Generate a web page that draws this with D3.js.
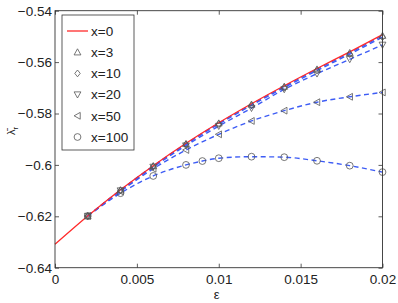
<!DOCTYPE html>
<html>
<head>
<meta charset="utf-8">
<script src="https://cdn.jsdelivr.net/npm/d3@7"></script>
<style>
  body { margin: 0; background: #fff; }
  text { font-family: "Liberation Sans", Arial, sans-serif; fill: #222; }
</style>
</head>
<body>
<script>
// chart size
const width = 398;
const height = 303;

// epsilon values used by most series
const eps = [0.002, 0.004, 0.006, 0.008, 0.01, 0.012, 0.014, 0.016, 0.018, 0.02];
// x=0 curve also starts at 0
const eps0 = [0, 0.002, 0.004, 0.006, 0.008, 0.01, 0.012, 0.014, 0.016, 0.018, 0.02];
// x=100 has an extra point at 0.009
const eps100 = [0.002, 0.004, 0.006, 0.008, 0.009, 0.01, 0.012, 0.014, 0.016, 0.018, 0.02];

const lam0 = [-0.6309, -0.6199, -0.6097, -0.6003, -0.5916, -0.5836, -0.5762, -0.5692, -0.5625, -0.5560, -0.5493];
const lam3 = [-0.6199, -0.6098, -0.6004, -0.5918, -0.5838, -0.5765, -0.5695, -0.5628, -0.5564, -0.5497];
const lam10 = [-0.6199, -0.6099, -0.6006, -0.5920, -0.5841, -0.5768, -0.5699, -0.5633, -0.5569, -0.5503];
const lam20 = [-0.6199, -0.6100, -0.6008, -0.5925, -0.5849, -0.5779, -0.5706, -0.5645, -0.5589, -0.5533];
const lam50 = [-0.6199, -0.6103, -0.6015, -0.5942, -0.5881, -0.5829, -0.5789, -0.5756, -0.5735, -0.5718];
const lam100 = [-0.6199, -0.6110, -0.6043, -0.6000, -0.5985, -0.5974, -0.5968, -0.5970, -0.5984, -0.6003, -0.6028];

const xTicks = [0, 0.005, 0.01, 0.015, 0.02];
const xTickLabels = ["0", "0.005", "0.01", "0.015", "0.02"];
const yTicks = [-0.64, -0.62, -0.6, -0.58, -0.56, -0.54];
const yTickLabels = ["\u22120.64", "\u22120.62", "\u22120.6", "\u22120.58", "\u22120.56", "\u22120.54"];

const legendLabels = ["x=0", "x=3", "x=10", "x=20", "x=50", "x=100"];

// plot box
const boxL = 55, boxR = 382.5, boxT = 10.7, boxB = 267.7;

const x = d3.scaleLinear().domain([0, 0.02]).range([boxL, boxR]);
const y = d3.scaleLinear().domain([-0.64, -0.54]).range([boxB, boxT]);

const svg = d3.select("body").append("svg")
  .attr("width", width)
  .attr("height", height);

const blue = "#3d5cf5";
const red = "#ff2a2a";
const markColor = "#555";

// marker shapes
function markerPath(kind) {
  const s = 3.4;
  if (kind === "up") return `M0,${-s}L${s},${s * 0.8}L${-s},${s * 0.8}Z`;
  if (kind === "down") return `M0,${s}L${s},${-s * 0.8}L${-s},${-s * 0.8}Z`;
  if (kind === "left") return `M${-s},0L${s * 0.8},${-s}L${s * 0.8},${s}Z`;
  if (kind === "diamond") return `M0,${-s}L${s * 0.8},0L0,${s}L${-s * 0.8},0Z`;
  return d3.arc()({ innerRadius: 0, outerRadius: s, startAngle: 0, endAngle: 2 * Math.PI });
}

const series = [
  { xs: eps, ys: lam3, mark: "up" },
  { xs: eps, ys: lam10, mark: "diamond" },
  { xs: eps, ys: lam20, mark: "down" },
  { xs: eps, ys: lam50, mark: "left" },
  { xs: eps100, ys: lam100, mark: "circle" },
];

const line = d3.line()
  .x((d) => x(d[0]))
  .y((d) => y(d[1]))
  .curve(d3.curveMonotoneX);

// dashed fits
series.forEach((s) => {
  svg.append("path")
    .attr("d", line(s.xs.map((e, i) => [e, s.ys[i]])))
    .attr("fill", "none")
    .attr("stroke", blue)
    .attr("stroke-width", 1.4)
    .attr("stroke-dasharray", "5,3.5");
});

// x=0 solid curve
svg.append("path")
  .attr("d", line(eps0.map((e, i) => [e, lam0[i]])))
  .attr("fill", "none")
  .attr("stroke", red)
  .attr("stroke-width", 1.3);

// markers
series.forEach((s) => {
  svg.append("g").selectAll("path")
    .data(s.xs.map((e, i) => [e, s.ys[i]]))
    .join("path")
    .attr("transform", (d) => `translate(${x(d[0])},${y(d[1])})`)
    .attr("d", markerPath(s.mark))
    .attr("fill", "none")
    .attr("stroke", markColor)
    .attr("stroke-width", 0.8);
});

// axes with inward ticks
const fs = "13.5px";
const gx = svg.append("g").attr("transform", `translate(0,${boxB})`)
  .call(d3.axisBottom(x).tickValues(xTicks).tickSize(-4).tickPadding(7)
    .tickFormat((d, i) => xTickLabels[i]));
const gy = svg.append("g").attr("transform", `translate(${boxL},0)`)
  .call(d3.axisLeft(y).tickValues(yTicks).tickSize(-4).tickPadding(3)
    .tickFormat((d, i) => yTickLabels[i]));
const gxt = svg.append("g").attr("transform", `translate(0,${boxT})`)
  .call(d3.axisTop(x).tickValues(xTicks).tickSize(-4).tickFormat(""));
const gyr = svg.append("g").attr("transform", `translate(${boxR},0)`)
  .call(d3.axisRight(y).tickValues(yTicks).tickSize(-4).tickFormat(""));

[gx, gy, gxt, gyr].forEach((g) => {
  g.select(".domain").remove();
  g.selectAll("line").attr("stroke", "#333").attr("stroke-width", 0.8);
  g.selectAll("text").style("font-size", fs).style("font-family", "Liberation Sans, Arial, sans-serif").attr("fill", "#111");
});

svg.append("rect")
  .attr("x", boxL).attr("y", boxT)
  .attr("width", boxR - boxL).attr("height", boxB - boxT)
  .attr("fill", "none").attr("stroke", "#333").attr("stroke-width", 0.9);

// axis labels
svg.append("text")
  .attr("x", (boxL + boxR) / 2 - 2)
  .attr("y", 299)
  .attr("text-anchor", "middle")
  .style("font-size", "13px")
  .text("\u03b5");

const yl = svg.append("text")
  .attr("transform", `translate(15,131) rotate(-90)`)
  .attr("text-anchor", "middle")
  .style("font-size", "11px");
yl.append("tspan").text("\u03bb\u0304");
yl.append("tspan").attr("dy", 3).style("font-size", "8px").text("r");

// legend
const lg = svg.append("g");
lg.append("rect")
  .attr("x", 62).attr("y", 15)
  .attr("width", 72).attr("height", 135)
  .attr("fill", "#fff").attr("stroke", "#333").attr("stroke-width", 0.8);

const legendMarks = [null, "up", "diamond", "down", "left", "circle"];
legendLabels.forEach((lab, i) => {
  const ly = 31 + i * 21.2;
  if (i === 0) {
    lg.append("line")
      .attr("x1", 67).attr("x2", 88).attr("y1", ly).attr("y2", ly)
      .attr("stroke", red).attr("stroke-width", 1.3);
  } else {
    lg.append("path")
      .attr("transform", `translate(77.5,${ly})`)
      .attr("d", markerPath(legendMarks[i]))
      .attr("fill", "none").attr("stroke", markColor).attr("stroke-width", 0.8);
  }
  lg.append("text")
    .attr("x", 91).attr("y", ly)
    .attr("dy", "0.35em")
    .style("font-size", fs)
    .text(lab);
});
</script>
</body>
</html>
